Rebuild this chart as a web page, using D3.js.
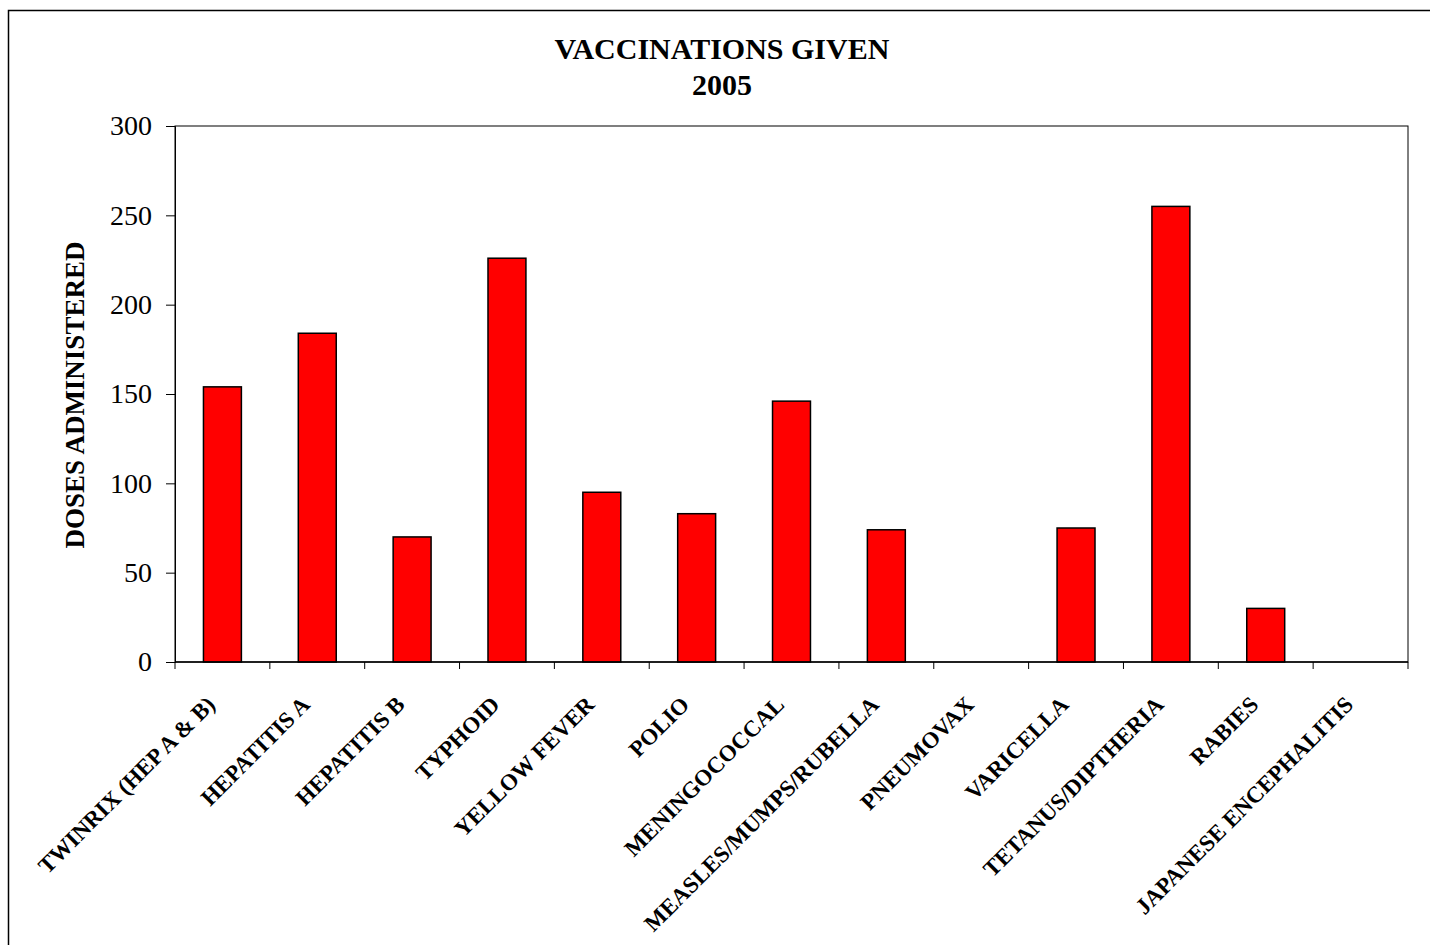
<!DOCTYPE html>
<html>
<head>
<meta charset="utf-8">
<script src="https://cdn.jsdelivr.net/npm/d3@7"></script>
<style>
  html, body { margin: 0; padding: 0; background: #fff; }
  svg { display: block; }
  text { font-family: "Liberation Serif", "Times New Roman", serif; fill: #000; }
</style>
</head>
<body>
<svg id="chart" width="1430" height="945"></svg>
<script>
const categories = [
  "TWINRIX (HEP A & B)", "HEPATITIS A", "HEPATITIS B", "TYPHOID", "YELLOW FEVER",
  "POLIO", "MENINGOCOCCAL", "MEASLES/MUMPS/RUBELLA", "PNEUMOVAX", "VARICELLA",
  "TETANUS/DIPTHERIA", "RABIES", "JAPANESE ENCEPHALITIS"
];
const doses = [154, 184, 70, 226, 95, 83, 146, 74, 0, 75, 255, 30, 0];
const yTicks = [0, 50, 100, 150, 200, 250, 300];
const titleLines = ["VACCINATIONS GIVEN", "2005"];
const yTitle = "DOSES ADMINISTERED";

const svg = d3.select("#chart");
const W = 1430, H = 945;
const plot = { left: 175, right: 1408, top: 126, bottom: 662 };

// outer frame
svg.append("rect")
  .attr("x", 8.5).attr("y", 10.5)
  .attr("width", W + 20).attr("height", H + 20)
  .attr("fill", "#fff").attr("stroke", "#000").attr("stroke-width", 1.5);

const x = d3.scaleBand().domain(categories).range([plot.left, plot.right]).paddingInner(0).paddingOuter(0);
const y = d3.scaleLinear().domain([0, 300]).range([plot.bottom, plot.top]);

// plot frame
svg.append("rect")
  .attr("x", plot.left).attr("y", plot.top)
  .attr("width", plot.right - plot.left).attr("height", plot.bottom - plot.top)
  .attr("fill", "none").attr("stroke", "#000").attr("stroke-width", 1);

// bars
const bw = x.bandwidth() * 0.4;
svg.append("g").selectAll("rect")
  .data(categories.map((c, i) => ({ c, v: doses[i] })).filter(d => d.v > 0))
  .join("rect")
  .attr("x", d => x(d.c) + (x.bandwidth() - bw) / 2)
  .attr("y", d => y(d.v))
  .attr("width", bw)
  .attr("height", d => y(0) - y(d.v))
  .attr("fill", "#FF0000")
  .attr("stroke", "#000")
  .attr("stroke-width", 1.5);

// y axis
const yAxis = d3.axisLeft(y).tickValues(yTicks).tickSize(9).tickPadding(14).tickFormat(d3.format("d"));
const gy = svg.append("g").attr("transform", `translate(${plot.left},0)`).call(yAxis);
gy.select(".domain").attr("stroke", "#000");
gy.selectAll(".tick line").attr("stroke", "#000");
gy.selectAll(".tick text")
  .attr("font-family", "Liberation Serif, serif")
  .attr("font-size", 28)
  .attr("fill", "#000");

// x axis: ticks at band boundaries
const boundaries = categories.map(c => x(c)).concat([plot.right]);
svg.append("g").selectAll("line")
  .data(boundaries)
  .join("line")
  .attr("x1", d => d).attr("x2", d => d)
  .attr("y1", plot.bottom).attr("y2", plot.bottom + 7)
  .attr("stroke", "#000");
svg.append("line")
  .attr("x1", plot.left).attr("x2", plot.right)
  .attr("y1", plot.bottom).attr("y2", plot.bottom)
  .attr("stroke", "#000").attr("stroke-width", 1.5);

// x labels
svg.append("g").selectAll("text")
  .data(categories)
  .join("text")
  .attr("transform", d => `translate(${x(d) + x.bandwidth() / 2 - 6},${plot.bottom + 44}) rotate(-45)`)
  .attr("text-anchor", "end")
  .attr("font-weight", "bold")
  .attr("font-size", 23)
  .text(d => d);

// title
svg.append("text")
  .attr("x", 722).attr("y", 59)
  .attr("text-anchor", "middle").attr("font-weight", "bold").attr("font-size", 30)
  .text(titleLines[0]);
svg.append("text")
  .attr("x", 722).attr("y", 95)
  .attr("text-anchor", "middle").attr("font-weight", "bold").attr("font-size", 30)
  .text(titleLines[1]);

// y title
svg.append("text")
  .attr("transform", `translate(84,395) rotate(-90)`)
  .attr("text-anchor", "middle").attr("font-weight", "bold").attr("font-size", 27)
  .text(yTitle);
</script>
</body>
</html>
